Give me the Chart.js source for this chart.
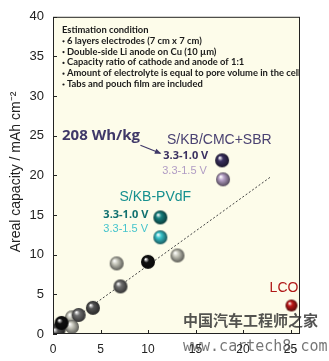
<!DOCTYPE html>
<html>
<head>
<meta charset="utf-8">
<script src="https://cdn.jsdelivr.net/npm/chart.js@4.4.1/dist/chart.umd.min.js"></script>
<style>
  html, body { margin: 0; padding: 0; background: #fff; }
  #wrap { width: 329px; height: 361px; }
</style>
</head>
<body>
<div id="wrap"><canvas id="c" width="329" height="361"></canvas></div>
<script>
// tick labels
const xTicks = [0, 5, 10, 15, 20, 25];
const yTicks = [0, 5, 10, 15, 20, 25, 30, 35, 40];

// S/KB/CMC+SBR
const cmc10 = [{ x: 17.8, y: 21.9 }];
const cmc15 = [{ x: 17.9, y: 19.5 }];
// S/KB-PVdF
const pvdf10 = [{ x: 11.3, y: 14.7 }];
const pvdf15 = [{ x: 11.3, y: 12.2 }];
// literature points
const blackPts = [{ x: 10.0, y: 9.1 }, { x: 0.9, y: 1.4 }];
const darkPts = [{ x: 4.2, y: 3.3 }, { x: 0.6, y: 0.6 }, { x: 0.4, y: 0.2 }];
const midPts = [{ x: 7.1, y: 6.0 }, { x: 2.7, y: 2.4 }];
const lightPts = [{ x: 6.7, y: 8.9 }, { x: 13.1, y: 9.9 }, { x: 2.0, y: 2.1 }, { x: 2.0, y: 0.9 }];
const lcoPts = [{ x: 25.1, y: 3.6 }];
// dotted trend
const trendPts = [{ x: 1.5, y: 1.3 }, { x: 22.9, y: 19.8 }];

const conditions = [
  "Estimation condition",
  "6 layers electrodes (7 cm x 7 cm)",
  "Double-side Li anode on Cu (10 \u00b5m)",
  "Capacity ratio of cathode and anode of 1:1",
  "Amount of electrolyte is equal to pore volume in the cell",
  "Tabs and pouch film are included"
];

function sphere(color, r) {
  const c = document.createElement("canvas");
  c.width = c.height = r * 2 + 2;
  const g = c.getContext("2d");
  const cx = r + 1, cy = r + 1;
  const grad = g.createRadialGradient(cx - r * 0.35, cy - r * 0.4, r * 0.05, cx, cy, r);
  grad.addColorStop(0, "#ffffff");
  grad.addColorStop(0.35, color);
  grad.addColorStop(1, shade(color, 0.45));
  g.fillStyle = grad;
  g.beginPath();
  g.arc(cx, cy, r, 0, Math.PI * 2);
  g.fill();
  return c;
}

function shade(hex, f) {
  const n = parseInt(hex.slice(1), 16);
  const r = Math.round(((n >> 16) & 255) * f);
  const g = Math.round(((n >> 8) & 255) * f);
  const b = Math.round((n & 255) * f);
  return "rgb(" + r + "," + g + "," + b + ")";
}

function pointSet(data, color, r) {
  return {
    type: "scatter",
    data: data,
    pointStyle: sphere(color, r),
    pointRadius: r,
    pointHoverRadius: r
  };
}

const decor = {
  id: "decor",
  beforeDatasetsDraw(chart) {
    const { ctx, chartArea: a } = chart;
    ctx.save();
    ctx.fillStyle = "#fdfcea";
    ctx.fillRect(a.left, a.top, a.right - a.left, a.bottom - a.top);
    ctx.restore();
  },
  afterDatasetsDraw(chart) {
    const { ctx, chartArea: a, scales } = chart;
    const xs = scales.x, ys = scales.y;
    ctx.save();
    // frame and inward ticks
    ctx.strokeStyle = "#222";
    ctx.lineWidth = 1;
    ctx.strokeRect(a.left + 0.5, a.top + 0.5, a.right - a.left - 1, a.bottom - a.top - 1);
    ctx.beginPath();
    xTicks.forEach(v => {
      const px = Math.round(xs.getPixelForValue(v)) + 0.5;
      ctx.moveTo(px, a.bottom);
      ctx.lineTo(px, a.bottom - 4);
    });
    yTicks.forEach(v => {
      const py = Math.round(ys.getPixelForValue(v)) + 0.5;
      ctx.moveTo(a.left, py);
      ctx.lineTo(a.left + 4, py);
    });
    ctx.stroke();

    // condition box text
    ctx.save();
    ctx.beginPath();
    ctx.rect(a.left, a.top, a.right - a.left - 1, a.bottom - a.top);
    ctx.clip();
    ctx.fillStyle = "#1a1a1a";
    ctx.textBaseline = "middle";
    ctx.font = "bold 9.4px Lato";
    conditions.forEach((t, i) => {
      const y = 30 + 10.8 * i;
      if (i === 0) {
        ctx.fillText(t, 62, y);
      } else {
        ctx.beginPath();
        ctx.arc(63.5, y + 0.5, 1.1, 0, Math.PI * 2);
        ctx.fill();
        ctx.fillText(t, 67, y);
      }
    });
    ctx.restore();

    const P = (x, y) => [xs.getPixelForValue(x), ys.getPixelForValue(y)];
    const label = (t, x, y, font, color) => {
      const [px, py] = P(x, y);
      ctx.font = font;
      ctx.fillStyle = color;
      ctx.textBaseline = "middle";
      ctx.fillText(t, px, py);
    };
    label("208 Wh/kg", 0.95, 25.0, "bold 15px 'Open Sans'", "#3f3868");
    label("S/KB/CMC+SBR", 12.0, 24.4, "14px 'Liberation Sans'", "#4a4272");
    label("3.3-1.0 V", 11.6, 22.5, "bold 11px 'Open Sans'", "#3a3060");
    label("3.3-1.5 V", 11.5, 20.6, "11px 'Liberation Sans'", "#b09cc4");
    label("S/KB-PVdF", 7.0, 17.2, "14px 'Liberation Sans'", "#16908f");
    label("3.3-1.0 V", 5.3, 15.0, "bold 11px 'Open Sans'", "#10706f");
    label("3.3-1.5 V", 5.3, 13.2, "11px 'Liberation Sans'", "#45c4cc");
    label("LCO", 22.8, 5.8, "14px 'Liberation Sans'", "#b01818");

    // arrow
    const [x1, y1] = P(9.2, 23.8);
    const [x2, y2] = P(11.3, 22.8);
    ctx.strokeStyle = "#3f3868";
    ctx.fillStyle = "#3f3868";
    ctx.lineWidth = 1.2;
    ctx.beginPath();
    ctx.moveTo(x1, y1);
    ctx.lineTo(x2, y2);
    ctx.stroke();
    const ang = Math.atan2(y2 - y1, x2 - x1);
    ctx.beginPath();
    ctx.moveTo(x2 + 1, y2 + 0.5);
    ctx.lineTo(x2 - 6 * Math.cos(ang - 0.45), y2 - 6 * Math.sin(ang - 0.45));
    ctx.lineTo(x2 - 6 * Math.cos(ang + 0.45), y2 - 6 * Math.sin(ang + 0.45));
    ctx.closePath();
    ctx.fill();

    // axis title
    ctx.save();
    ctx.translate(16, 172);
    ctx.rotate(-Math.PI / 2);
    ctx.textAlign = "center";
    ctx.textBaseline = "middle";
    ctx.fillStyle = "#222";
    ctx.font = "14px 'Liberation Sans'";
    ctx.fillText("Areal capacity / mAh cm\u207b\u00b2", 0, 0);
    ctx.restore();

    // watermark
    ctx.fillStyle = "rgba(40,40,40,0.8)";
    ctx.textBaseline = "middle";
    ctx.font = "bold 15px 'Noto Sans CJK SC'";
    ctx.fillText("中国汽车工程师之家", 183, 320);
    ctx.font = "15px 'DejaVu Sans Mono'";
    ctx.fillStyle = "rgba(60,60,60,0.7)";
    ctx.fillText("www.cartech8.com", 183, 347);
    ctx.restore();
  }
};

new Chart(document.getElementById("c"), {
  type: "scatter",
  data: {
    datasets: [
      pointSet(cmc10, "#3a3060", 7),
      pointSet(cmc15, "#b8a2c8", 7),
      pointSet(pvdf10, "#15807f", 7),
      pointSet(pvdf15, "#38c4cc", 7),
      pointSet(lcoPts, "#c01818", 6),
      pointSet(blackPts, "#111111", 7),
      pointSet(darkPts, "#555555", 7),
      pointSet(midPts, "#707070", 7),
      pointSet(lightPts, "#c8c8bc", 7),
      {
        type: "line",
        data: trendPts,
        borderColor: "#444",
        borderWidth: 1,
        borderDash: [2, 2],
        pointRadius: 0,
        fill: false
      }
    ]
  },
  options: {
    responsive: false,
    animation: false,
    layout: { padding: { top: 16, right: 29, left: 0, bottom: 0 } },
    plugins: { legend: { display: false }, tooltip: { enabled: false } },
    scales: {
      x: {
        type: "linear",
        min: 0,
        max: 26,
        afterBuildTicks: s => { s.ticks = xTicks.map(v => ({ value: v })); },
        afterFit: s => { s.height = 27; },
        grid: { display: false, drawTicks: false },
        border: { display: false },
        ticks: { color: "#222", font: { family: "Liberation Sans", size: 12 }, padding: 8 }
      },
      y: {
        type: "linear",
        min: 0,
        max: 40,
        afterBuildTicks: s => { s.ticks = yTicks.map(v => ({ value: v })); },
        afterFit: s => { s.width = 53; },
        grid: { display: false, drawTicks: false },
        border: { display: false },
        ticks: { color: "#222", font: { family: "Liberation Sans", size: 13 }, padding: 9 }
      }
    }
  },
  plugins: [decor]
});
</script>
</body>
</html>
